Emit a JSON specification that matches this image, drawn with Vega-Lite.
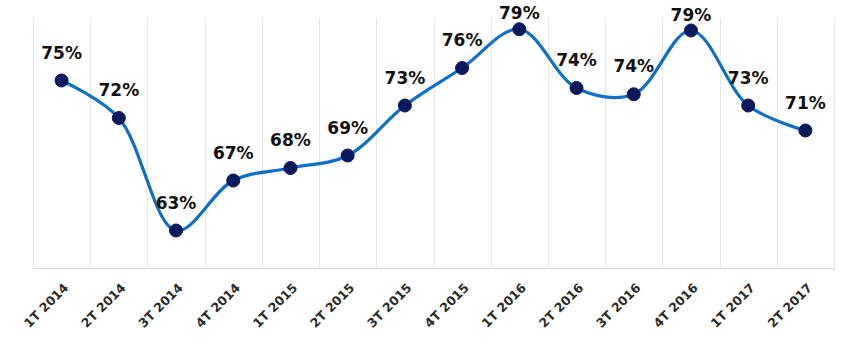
{
  "$schema": "https://vega.github.io/schema/vega-lite/v6.json",
  "width": 801,
  "height": 250,
  "autosize": {"type": "none"},
  "padding": {"left": 33, "top": 18, "right": 14, "bottom": 80},
  "background": "white",
  "config": {"view": {"stroke": null}},
  "data": {
    "values": [
      {"quarter": "1T 2014", "value": 75, "label": "75%"},
      {"quarter": "2T 2014", "value": 72, "label": "72%"},
      {"quarter": "3T 2014", "value": 63, "label": "63%"},
      {"quarter": "4T 2014", "value": 67, "label": "67%"},
      {"quarter": "1T 2015", "value": 68, "label": "68%"},
      {"quarter": "2T 2015", "value": 69, "label": "69%"},
      {"quarter": "3T 2015", "value": 73, "label": "73%"},
      {"quarter": "4T 2015", "value": 76, "label": "76%"},
      {"quarter": "1T 2016", "value": 79.1, "label": "79%"},
      {"quarter": "2T 2016", "value": 74.4, "label": "74%"},
      {"quarter": "3T 2016", "value": 73.9, "label": "74%"},
      {"quarter": "4T 2016", "value": 79, "label": "79%"},
      {"quarter": "1T 2017", "value": 73, "label": "73%"},
      {"quarter": "2T 2017", "value": 71, "label": "71%"}
    ]
  },
  "encoding": {
    "x": {
      "field": "quarter",
      "type": "ordinal",
      "sort": null,
      "bandPosition": 0.5,
      "scale": {"type": "band", "paddingInner": 0, "paddingOuter": 0},
      "axis": {
        "title": null,
        "labelAngle": -45,
        "labelFont": "DejaVu Sans",
        "labelFontWeight": "bold",
        "labelFontSize": 12.5,
        "labelColor": "#2a2a2a",
        "labelPadding": 13,
        "ticks": false,
        "tickBand": "extent",
        "grid": true,
        "gridColor": "#e6e6e6",
        "gridWidth": 1,
        "domainColor": "#d9d9d9",
        "domainWidth": 1
      }
    },
    "y": {
      "field": "value",
      "type": "quantitative",
      "scale": {"domain": [60, 80], "nice": false, "zero": false},
      "axis": null
    }
  },
  "layer": [
    {
      "mark": {"type": "line", "interpolate": "catmull-rom", "color": "#0e6fc4", "strokeWidth": 3.2}
    },
    {
      "mark": {"type": "point", "filled": true, "size": 170, "color": "#0b1a5c", "opacity": 1, "stroke": "#0b1a5c", "strokeWidth": 1}
    },
    {
      "transform": [{"filter": "datum.value < 78"}],
      "mark": {"type": "text", "font": "DejaVu Sans", "fontWeight": "bold", "fontSize": 17, "color": "#111111", "baseline": "middle", "dy": -27},
      "encoding": {"text": {"field": "label"}}
    },
    {
      "transform": [{"filter": "datum.value >= 78"}],
      "mark": {"type": "text", "font": "DejaVu Sans", "fontWeight": "bold", "fontSize": 17, "color": "#111111", "baseline": "middle", "dy": -15},
      "encoding": {"text": {"field": "label"}}
    }
  ]
}
